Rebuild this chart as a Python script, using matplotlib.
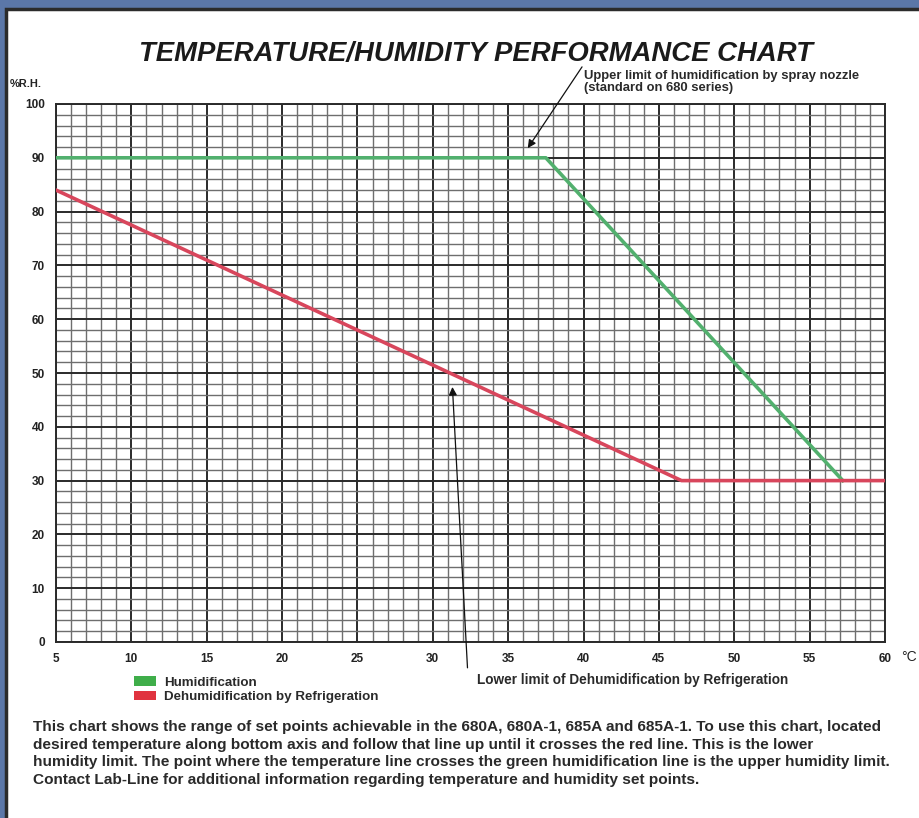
import matplotlib.pyplot as plt
from matplotlib.patches import Rectangle, Patch
from matplotlib.ticker import MultipleLocator

# data
temp_green = [5, 37.5, 57.2]
rh_green = [90, 90, 30]
temp_red = [5, 46.5, 60]
rh_red = [84, 30, 30]
x_ticks = [5, 10, 15, 20, 25, 30, 35, 40, 45, 50, 55, 60]
y_ticks = [0, 10, 20, 30, 40, 50, 60, 70, 80, 90, 100]

plt.rcParams['font.family'] = ['Liberation Sans', 'DejaVu Sans']

fig = plt.figure(figsize=(9.2, 8.18), dpi=100, facecolor='#5b77a8')
fig.patches.append(Rectangle((6.5 / 920, -0.02), 1.1, 1 - 8.5 / 818 + 0.02,
                             transform=fig.transFigure, facecolor='white',
                             edgecolor='#2b2b2b', lw=2.5, zorder=-5))

ax = fig.add_axes([56 / 920, 1 - 642 / 818, 829 / 920, 538 / 818])
ax.set_facecolor('white')
ax.set_xlim(5, 60)
ax.set_ylim(0, 100)
ax.set_xticks(x_ticks)
ax.set_yticks(y_ticks)
ax.xaxis.set_minor_locator(MultipleLocator(1))
ax.yaxis.set_minor_locator(MultipleLocator(2))
ax.grid(which='minor', color='#6e6e6e', lw=1.0)
ax.grid(which='major', color='#2a2a2a', lw=1.4)
ax.set_axisbelow(True)
ax.tick_params(which='both', length=0)
ax.tick_params(axis='x', pad=8, labelsize=8.5, labelcolor='#222222')
ax.tick_params(axis='y', pad=8, labelsize=8.5, labelcolor='#222222')
for lab in ax.get_xticklabels() + ax.get_yticklabels():
    lab.set_fontweight('bold')
for s in ax.spines.values():
    s.set_color('#2a2a2a')
    s.set_linewidth(1.4)

ax.plot(temp_green, rh_green, color='#52b06e', lw=2.6, zorder=3)
ax.plot(temp_red, rh_red, color='#d8465c', lw=2.6, zorder=3)

arrow = dict(arrowstyle='-|>', color='#111111', lw=0.9, mutation_scale=12, shrinkA=0, shrinkB=0)
ax.annotate('', xy=(36.3, 91.8), xytext=(39.9, 106.9), arrowprops=arrow, annotation_clip=False)
ax.annotate('', xy=(31.3, 47.4), xytext=(32.3, -4.8), arrowprops=arrow, annotation_clip=False)

fig.text(0.517, 1 - 54 / 818, 'TEMPERATURE/HUMIDITY PERFORMANCE CHART', ha='center', va='center',
         fontsize=19.8, fontweight='bold', fontstyle='italic', color='#1a1a1a')
fig.text(0.028, 0.897, '%R.H.', ha='center', va='center', fontsize=8, fontweight='bold',
         color='#222222')
fig.text(0.988, 0.197, '°C', ha='center', va='center', fontsize=10, color='#222222')
fig.text(584 / 920, 1 - 82 / 818, 'Upper limit of humidification by spray nozzle\n(standard on 680 series)',
         ha='left', va='center', fontsize=9.4, fontweight='bold', color='#2a2a2a', linespacing=1.1)
fig.text(477 / 920, 1 - 680 / 818, 'Lower limit of Dehumidification by Refrigeration',
         ha='left', va='center', fontsize=9.8, fontweight='bold', color='#2a2a2a')

fig.legend(handles=[Patch(facecolor='#3fae4a', label='Humidification'),
                    Patch(facecolor='#e0333f', label='Dehumidification by Refrigeration')],
           loc='upper left', bbox_to_anchor=(122 / 920, 1 - 664 / 818), frameon=False,
           prop={'size': 9.6, 'weight': 'bold'}, handlelength=1.65, handleheight=0.75,
           labelspacing=0.15, handletextpad=0.6)
for t in fig.legends[0].get_texts():
    t.set_color('#2a2a2a')

para = ('This chart shows the range of set points achievable in the 680A, 680A-1, 685A and 685A-1. '
        'To use this chart, located\n'
        'desired temperature along bottom axis and follow that line up until it crosses the red line. '
        'This is the lower\n'
        'humidity limit. The point where the temperature line crosses the green humidification line '
        'is the upper humidity limit.\n'
        'Contact Lab-Line for additional information regarding temperature and humidity set points.')
fig.text(33 / 920, 1 - 720 / 818, para, ha='left', va='top', fontsize=11.1, fontweight='bold',
         color='#2a2a2a', linespacing=1.34)

fig.savefig('out.png', dpi=100, facecolor=fig.get_facecolor())
